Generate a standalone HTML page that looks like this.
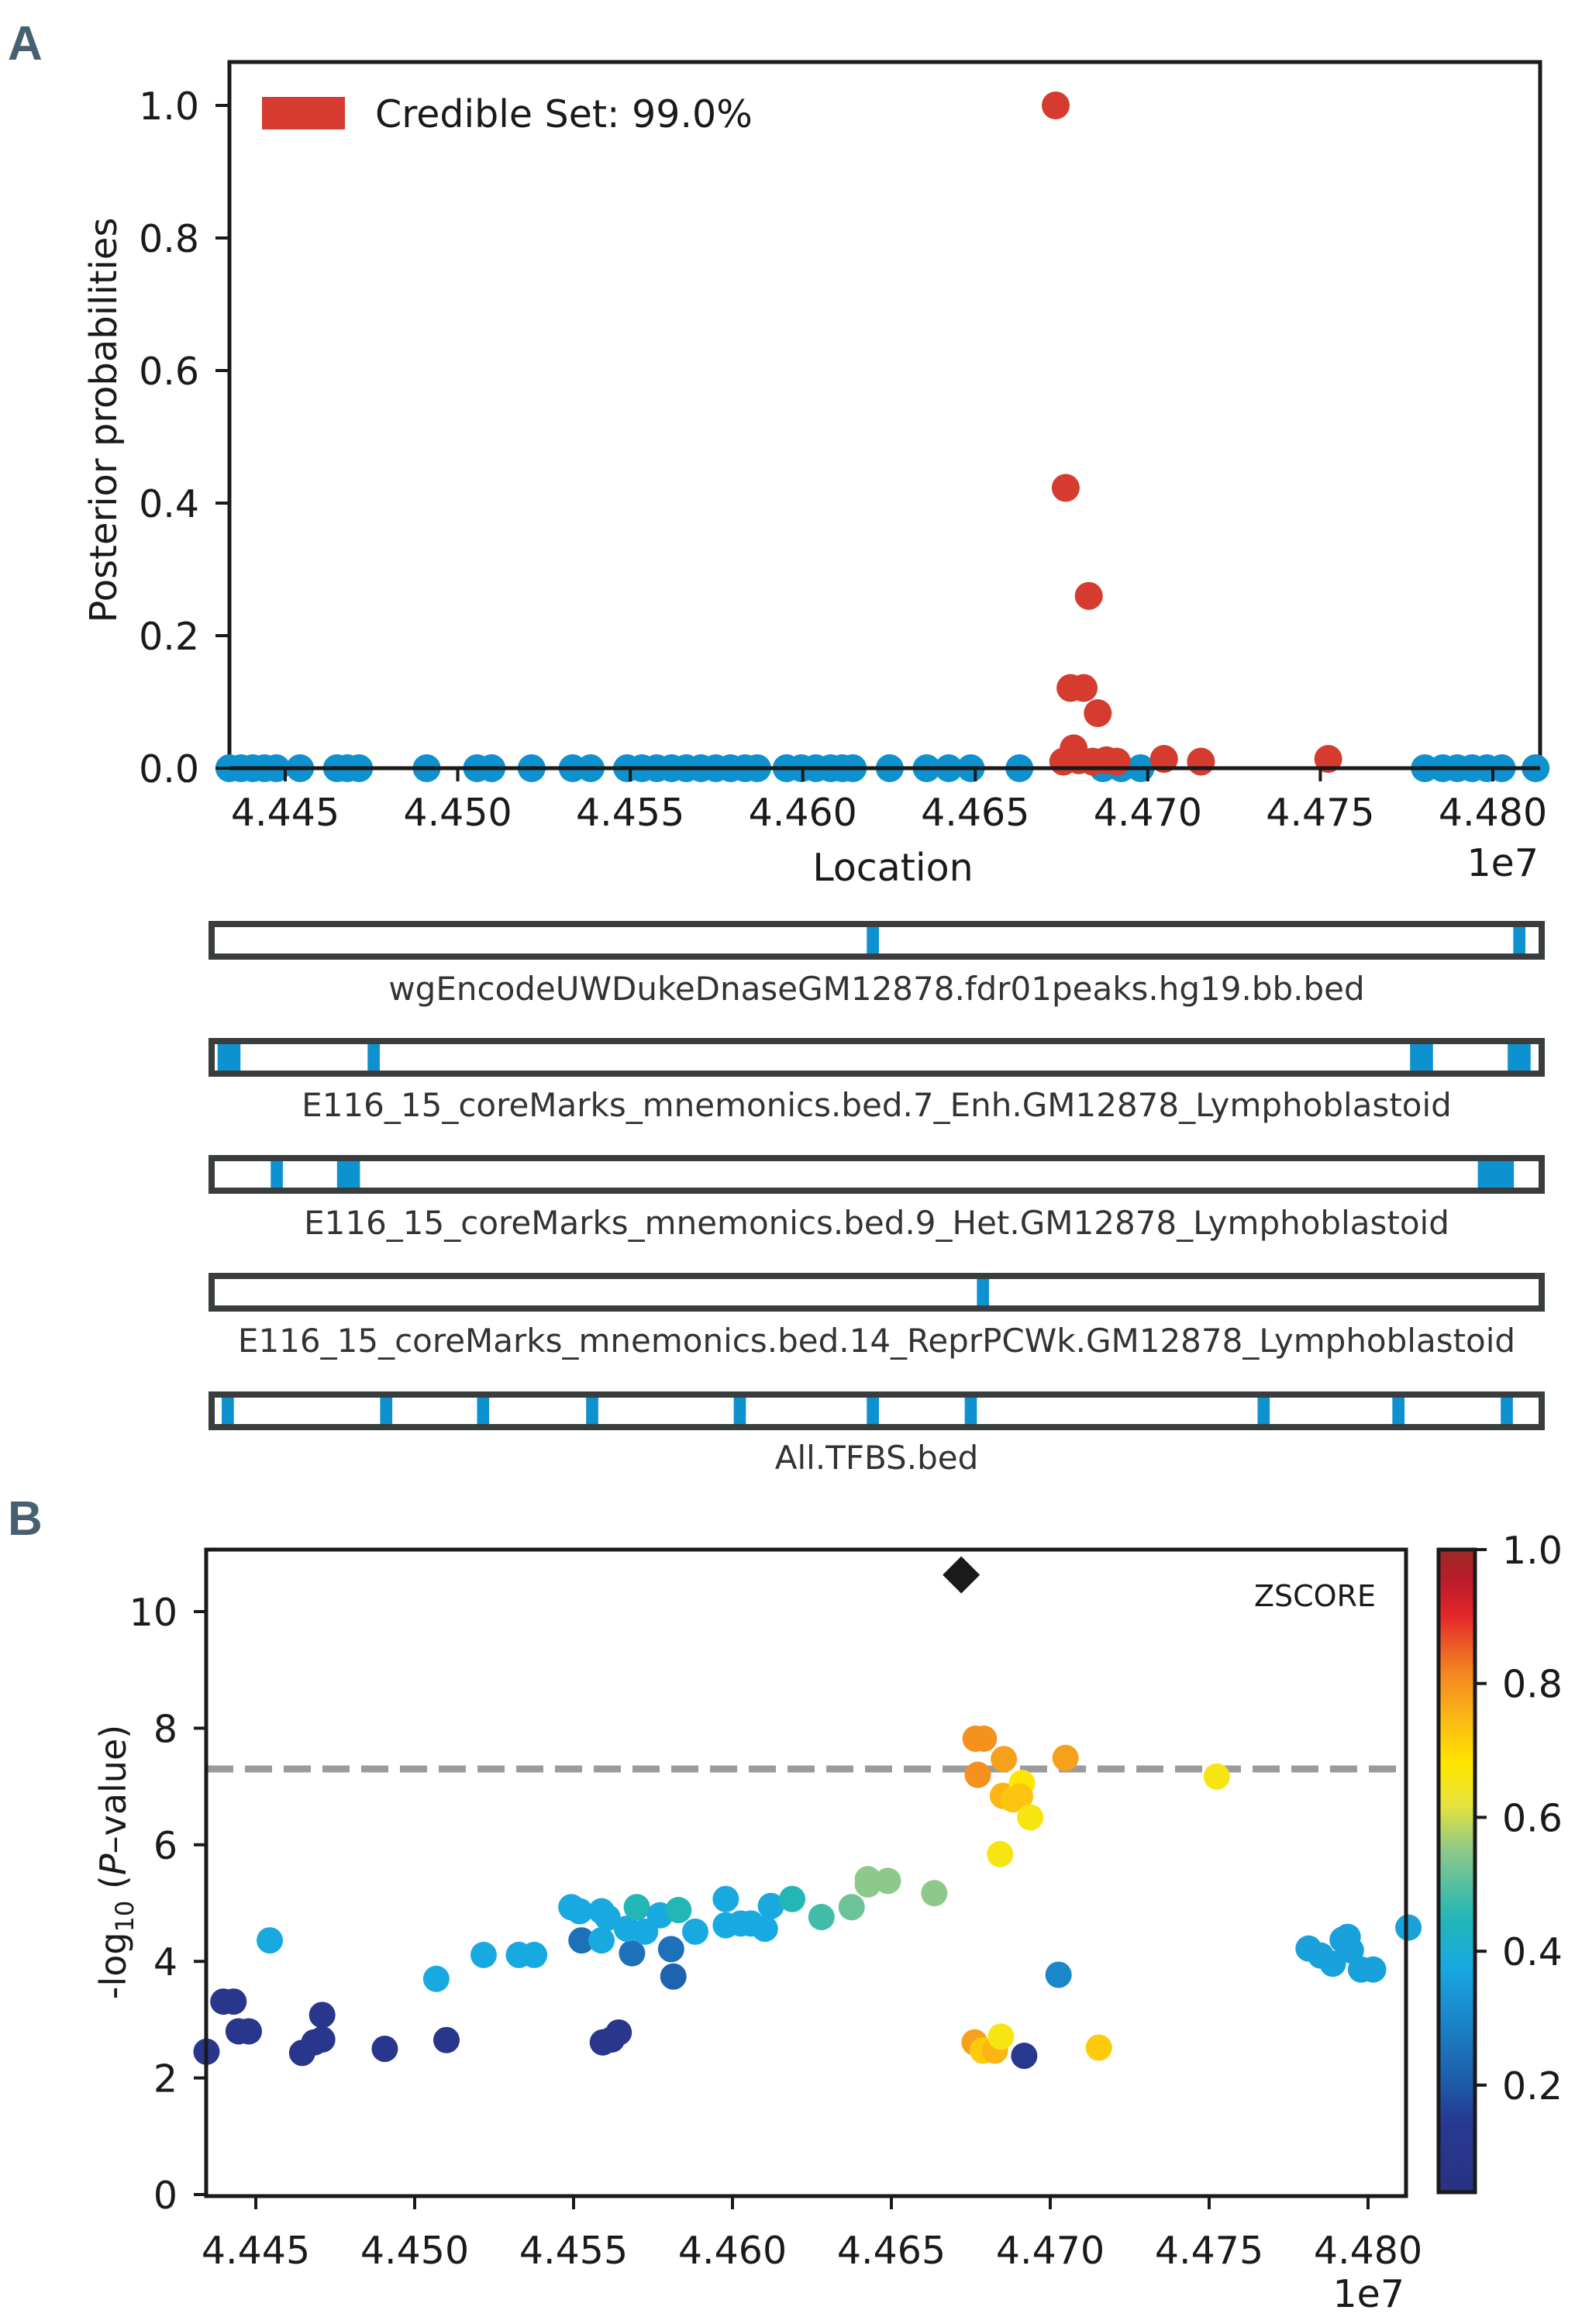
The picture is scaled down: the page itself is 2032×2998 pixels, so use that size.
<!DOCTYPE html>
<html><head><meta charset="utf-8"><style>
html,body{margin:0;padding:0;background:#fff}
svg{display:block}
text{font-family:"DejaVu Sans","Liberation Sans",sans-serif;fill:#1a1a1a}
</style></head><body>
<svg id="fig" xmlns="http://www.w3.org/2000/svg" width="2032" height="2998" viewBox="0 0 2032 2998">
<text x="10" y="77" style="font-family:'Liberation Sans Narrow','Liberation Sans',sans-serif;font-weight:bold;font-size:62px;fill:#47606f">A</text>
<text x="10" y="1980" style="font-family:'Liberation Sans Narrow','Liberation Sans',sans-serif;font-weight:bold;font-size:62px;fill:#47606f">B</text>
<g id="gA"></g>
<g id="gT"></g>
<g id="gB"></g>
</svg>
<script>
// ---------- Panel A data ----------
const aTicksX = [4.445,4.450,4.455,4.460,4.465,4.470,4.475,4.480];
const aTicksY = [0.0,0.2,0.4,0.6,0.8,1.0];
const aBlueX = [4.44338,4.44372,4.44406,4.4444,4.44474,4.44543,4.4465,4.4468,4.44714,4.4491,4.45056,4.45098,4.45214,4.45333,4.45385,4.45491,4.45534,4.45577,4.4562,4.45662,4.45705,4.45748,4.45791,4.45833,4.45868,4.45953,4.45996,4.46038,4.46081,4.46115,4.46145,4.46252,4.46359,4.46423,4.46487,4.46628,4.46870,4.46923,4.46979,4.47803,4.47855,4.47897,4.4794,4.47983,4.48026,4.48124];
const aRedX = [4.46733,4.46762,4.46829,4.46776,4.46814,4.46855,4.46785,4.46755,4.46800,4.46840,4.46880,4.46910,4.47047,4.47154,4.47523];
const aRedY = [1.0,0.423,0.26,0.121,0.121,0.083,0.03,0.01,0.012,0.01,0.012,0.01,0.014,0.01,0.014];
// ---------- Tracks data ----------
const trackNames = ["wgEncodeUWDukeDnaseGM12878.fdr01peaks.hg19.bb.bed","E116_15_coreMarks_mnemonics.bed.7_Enh.GM12878_Lymphoblastoid","E116_15_coreMarks_mnemonics.bed.9_Het.GM12878_Lymphoblastoid","E116_15_coreMarks_mnemonics.bed.14_ReprPCWk.GM12878_Lymphoblastoid","All.TFBS.bed"];
const trackStart = [[4.46244,4.48105],[4.44375,4.44807,4.47808,4.48089],[4.44528,4.44719,4.48003],[4.46561],[4.44387,4.44843,4.45122,4.45436,4.45861,4.46244,4.46526,4.47369,4.47757,4.48069]];
const trackWidth = [[0.00035,0.00035],[0.00066,0.00035,0.00066,0.00066],[0.00035,0.00066,0.00104],[0.00035],[0.00035,0.00035,0.00035,0.00035,0.00035,0.00035,0.00035,0.00035,0.00035,0.00035]];
// ---------- Panel B data ----------
const bTicksX = [4.445,4.450,4.455,4.460,4.465,4.470,4.475,4.480];
const bTicksY = [0,2,4,6,8,10];
const cbTicks = [0.2,0.4,0.6,0.8,1.0];
const bX = [4.44345,4.44398,4.4443,4.44446,4.44478,4.44646,4.44684,4.44709,4.44709,4.44906,4.4510,4.45592,4.4562,4.45642,4.46918,
 4.45525,4.45684,4.45807,4.45814,4.47026,
 4.44544,4.45068,4.45217,4.45328,4.45376,4.45493,4.45519,4.45588,4.45588,4.45607,4.45668,4.45699,4.45725,4.45772,4.4583,4.45883,4.45979,4.45979,4.46026,4.46058,4.46102,4.46121,4.46188,
 4.4628,4.46375,4.46426,4.46426,4.46489,4.46635,
 4.46791,4.46765,4.46772,4.46854,4.46851,4.46883,4.46911,4.46905,4.46937,4.46842,4.47048,4.47524,
 4.46762,4.46788,4.46826,4.46845,4.47153,
 4.47813,4.47851,4.47889,4.4792,4.47936,4.47946,4.47978,4.48016,4.48127];
const bY = [2.45,3.31,3.31,2.80,2.80,2.43,2.61,2.66,3.08,2.50,2.65,2.61,2.66,2.78,2.38,
 4.36,4.14,4.21,3.74,3.77,
 4.36,3.70,4.11,4.11,4.11,4.93,4.86,4.36,4.86,4.75,4.56,4.93,4.51,4.79,4.88,4.51,5.07,4.62,4.65,4.65,4.56,4.95,5.07,
 4.76,4.93,5.41,5.32,5.38,5.17,
 7.82,7.82,7.20,7.47,6.84,6.78,7.06,6.83,6.47,5.84,7.49,7.17,
 2.61,2.47,2.47,2.71,2.52,
 4.22,4.10,3.96,4.37,4.42,4.19,3.86,3.86,4.58];
const bZ = [0.1,0.1,0.1,0.1,0.1,0.1,0.1,0.1,0.1,0.1,0.1,0.1,0.1,0.1,0.12,
 0.25,0.25,0.25,0.22,0.3,
 0.38,0.38,0.38,0.38,0.38,0.38,0.38,0.38,0.38,0.38,0.38,0.45,0.38,0.38,0.45,0.38,0.38,0.38,0.38,0.38,0.38,0.38,0.45,
 0.48,0.52,0.55,0.55,0.55,0.55,
 0.8,0.8,0.8,0.78,0.75,0.73,0.68,0.73,0.66,0.66,0.78,0.66,
 0.78,0.72,0.75,0.66,0.72,
 0.36,0.36,0.36,0.36,0.36,0.36,0.36,0.36,0.36];
const leadX = [4.46720];
const leadY = [10.63];
const threshold = [7.3];

const NS='http://www.w3.org/2000/svg';
function mk(parent,tag,attrs){const e=document.createElementNS(NS,tag);for(const k in attrs)e.setAttribute(k,attrs[k]);parent.appendChild(e);return e;}
function txt(parent,s,attrs){const e=mk(parent,'text',attrs);e.textContent=s;return e;}

// Panel A scales
const ax=v=>368+(v-4.445)/0.005*222.57;
const ay=v=>991-v*855;
const gA=document.getElementById('gA');
let r=mk(gA,'rect',{x:296,y:80,width:1691,height:911,fill:'none',stroke:'#1a1a1a','stroke-width':5});


aBlueX.forEach(v=>{const c=mk(gA,'circle',{cx:ax(v),cy:ay(0),r:18,fill:'#0e91cf'});

});
aRedX.forEach((v,i)=>{const c=mk(gA,'circle',{cx:ax(v),cy:ay(aRedY[i]),r:18,fill:'#d63b2f'});

});
mk(gA,'line',{x1:296,x2:1987,y1:991,y2:991,stroke:'#1a1a1a','stroke-width':5});
aTicksX.forEach(v=>{mk(gA,'line',{x1:ax(v),x2:ax(v),y1:991,y2:1008,stroke:'#1a1a1a','stroke-width':4});
const t=txt(gA,v.toFixed(3),{x:ax(v),y:1065,'text-anchor':'middle','font-size':49});

});
aTicksY.forEach(v=>{mk(gA,'line',{x1:278,x2:296,y1:ay(v),y2:ay(v),stroke:'#1a1a1a','stroke-width':4});
const t=txt(gA,v.toFixed(1),{x:257,y:ay(v)+18,'text-anchor':'end','font-size':49});

});
let t=txt(gA,'Location',{x:1152,y:1136,'text-anchor':'middle','font-size':49});


t=txt(gA,'1e7',{x:1985,y:1130,'text-anchor':'end','font-size':49});


t=txt(gA,'Posterior probabilities',{x:0,y:0,'text-anchor':'middle','font-size':48,transform:'translate(150,542) rotate(-90)'});


r=mk(gA,'rect',{x:338,y:125,width:107,height:42,fill:'#d63b2f'});


t=txt(gA,'Credible Set: 99.0%',{x:484,y:164,'font-size':49});



// Tracks
const tx=v=>265+(v-4.4434)/0.038*1703;
const gT=document.getElementById('gT');
const trackTop=[1192,1343,1494,1646,1799];
const labelY=[1290,1440,1592,1744,1895];
trackNames.forEach((n,i)=>{
 const g=mk(gT,'g',{});
 
 
 trackStart[i].forEach((s,j)=>{const b=mk(g,'rect',{x:tx(s),y:trackTop[i],width:trackWidth[i][j]/0.038*1703,height:42,fill:'#0e91cf'});
 
 });
 mk(g,'rect',{x:273,y:trackTop[i],width:1716,height:42,fill:'none',stroke:'#3a3d3d','stroke-width':8});
 const l=txt(g,n,{x:1131,y:labelY[i],'text-anchor':'middle','font-size':42,style:'fill:#333'});
 
 
});

// Panel B
const bx=v=>330+(v-4.445)/0.005*205;
const by=v=>2831-v*75.2;
const stops=[[0.04,[42,50,130]],[0.15,[38,58,147]],[0.2,[30,90,168]],[0.3,[26,135,201]],[0.38,[25,169,225]],[0.45,[34,182,182]],[0.55,[140,201,138]],[0.62,[232,227,58]],[0.68,[255,230,0]],[0.75,[251,182,21]],[0.82,[242,131,34]],[0.9,[228,40,42]],[0.95,[189,26,44]],[1.0,[156,43,37]]];
function cmap(v){if(v<=stops[0][0])return 'rgb('+stops[0][1]+')';for(let i=1;i<stops.length;i++){if(v<=stops[i][0]){const a=stops[i-1],b=stops[i],f=(v-a[0])/(b[0]-a[0]);return 'rgb('+a[1].map((c,k)=>Math.round(c+(b[1][k]-c)*f)).join(',')+')';}}return 'rgb('+stops[stops.length-1][1]+')';}
const gB=document.getElementById('gB');
const defs=mk(gB,'defs',{});
const lg=mk(defs,'linearGradient',{id:'cbg',x1:0,y1:1,x2:0,y2:0});
for(let k=0;k<=48;k++){const v=0.04+k*0.96/48;mk(lg,'stop',{offset:(k/48),'stop-color':cmap(v)});}
const thr=mk(gB,'line',{x1:266,x2:1814,y1:by(threshold[0]),y2:by(threshold[0]),stroke:'#999c9f','stroke-width':9,'stroke-dasharray':'35 15'});


bX.forEach((v,i)=>{const c=mk(gB,'circle',{cx:bx(v),cy:by(bY[i]),r:17,fill:cmap(bZ[i])});

});
leadX.forEach((v,i)=>{const cx=bx(v),cy=by(leadY[i]);const d=mk(gB,'polygon',{points:`${cx},${cy-24} ${cx+24},${cy} ${cx},${cy+24} ${cx-24},${cy}`,fill:'#1a1a1a'});

});
r=mk(gB,'rect',{x:266,y:1999,width:1548,height:834,fill:'none',stroke:'#1a1a1a','stroke-width':5});


bTicksX.forEach(v=>{mk(gB,'line',{x1:bx(v),x2:bx(v),y1:2833,y2:2850,stroke:'#1a1a1a','stroke-width':4});
const t=txt(gB,v.toFixed(3),{x:bx(v),y:2920,'text-anchor':'middle','font-size':49});

});
bTicksY.forEach(v=>{mk(gB,'line',{x1:250,x2:266,y1:by(v),y2:by(v),stroke:'#1a1a1a','stroke-width':4});
const t=txt(gB,String(v),{x:229,y:by(v)+18,'text-anchor':'end','font-size':49});

});
t=txt(gB,'1e7',{x:1812,y:2976,'text-anchor':'end','font-size':49});


t=txt(gB,'ZSCORE',{x:1775,y:2072,'text-anchor':'end','font-size':38});


const yl=mk(gB,'text',{x:0,y:0,'text-anchor':'middle','font-size':46,transform:'translate(162,2402) rotate(-90)'});


yl.innerHTML='-log<tspan font-size="32" dy="10">10</tspan><tspan dy="-10"> (</tspan><tspan font-style="italic">P</tspan>–value)';
// colorbar
const cy=v=>2828-(v-0.04)/0.96*829;
r=mk(gB,'rect',{x:1856,y:1999,width:47,height:829,fill:'url(#cbg)',stroke:'#1a1a1a','stroke-width':5});


cbTicks.forEach(v=>{mk(gB,'line',{x1:1903,x2:1918,y1:cy(v),y2:cy(v),stroke:'#1a1a1a','stroke-width':4});
const t=txt(gB,v.toFixed(1),{x:1938,y:cy(v)+18,'font-size':49});

});
</script>
</body></html>
